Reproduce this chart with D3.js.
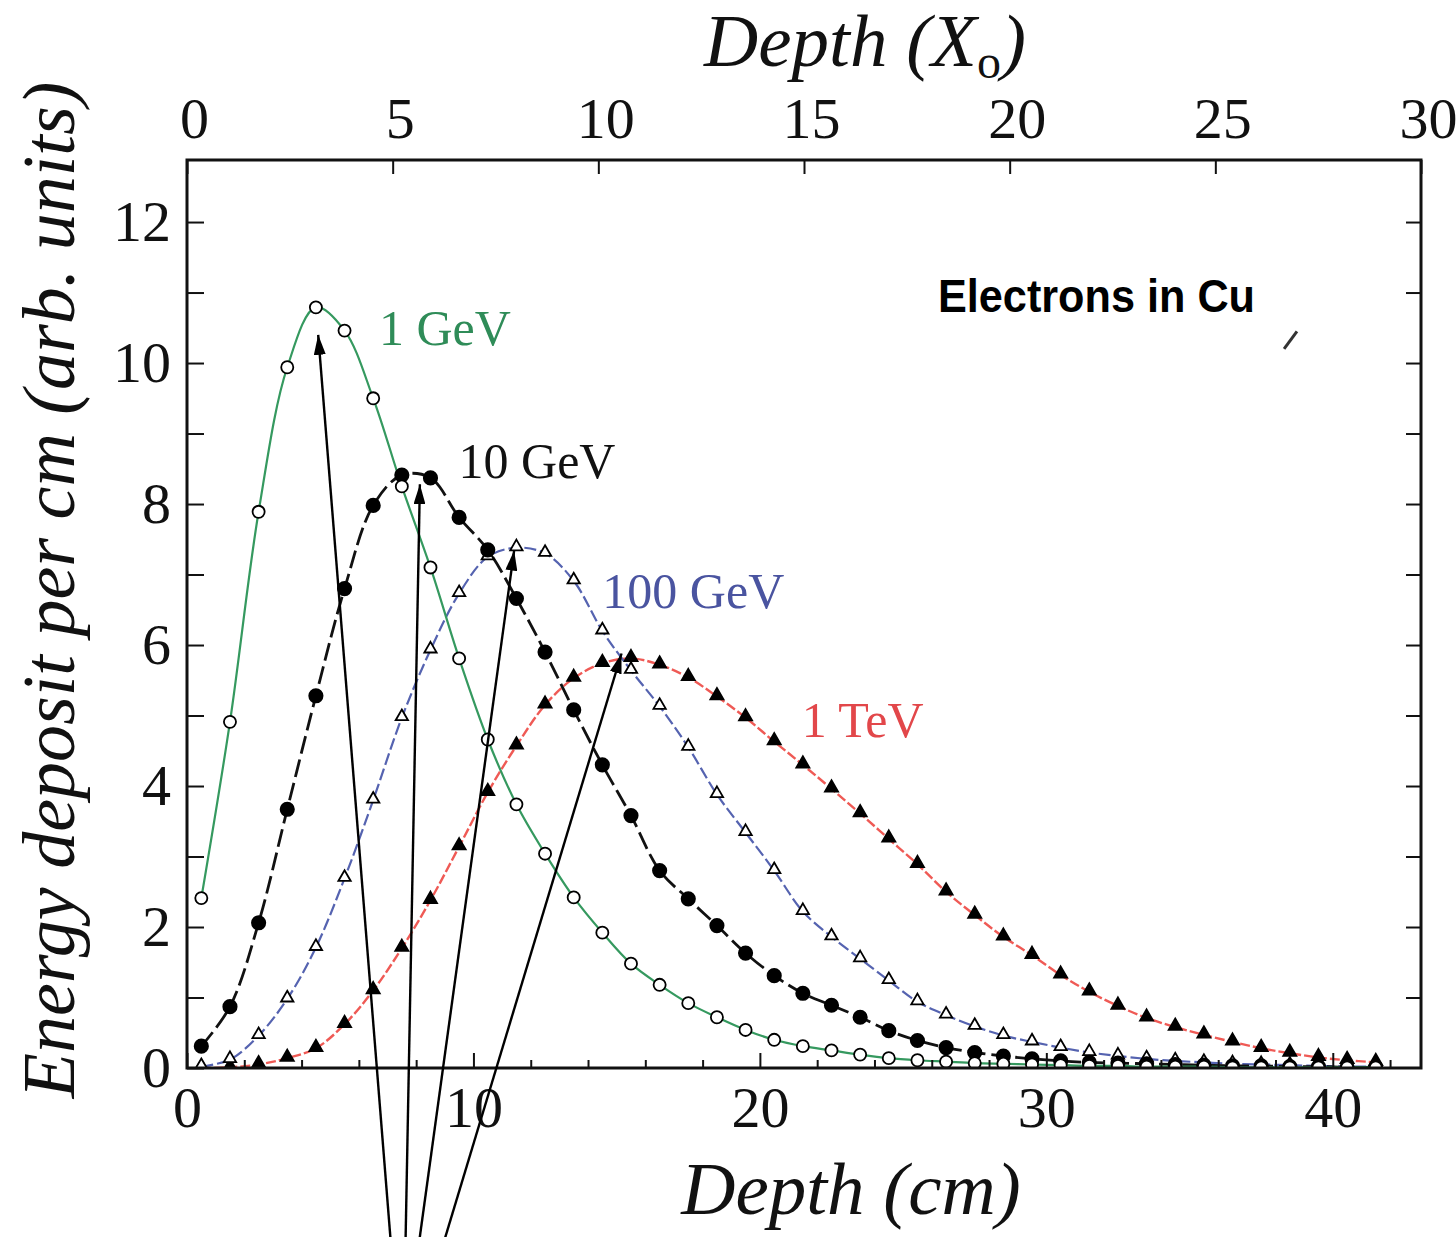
<!DOCTYPE html>
<html>
<head>
<meta charset="utf-8">
<script src="https://cdn.jsdelivr.net/npm/d3@7"></script>
<style>
  html, body { margin: 0; padding: 0; background: #fff; }
  svg { display: block; }
</style>
</head>
<body>
<svg id="chart" width="1456" height="1237"></svg>
<script>
// Longitudinal shower profiles of electrons in copper (dE/dx per cm vs depth)
const X0_CM = 1.436;              // radiation length of copper, cm
const depthRangeX0 = [0, 30];     // top axis extent in radiation lengths
const energyRange = [0, 12.88];

// sampling depths (cm)
const depthCm = [0.5, 1.5, 2.5, 3.5, 4.5, 5.5, 6.5, 7.5, 8.5, 9.5,
  10.5, 11.5, 12.5, 13.5, 14.5, 15.5, 16.5, 17.5, 18.5, 19.5,
  20.5, 21.5, 22.5, 23.5, 24.5, 25.5, 26.5, 27.5, 28.5, 29.5,
  30.5, 31.5, 32.5, 33.5, 34.5, 35.5, 36.5, 37.5, 38.5, 39.5,
  40.5, 41.5];

const seriesNames = ["1 GeV", "10 GeV", "100 GeV", "1 TeV"];

const deposit1GeV = [2.41, 4.91, 7.89, 9.94, 10.79, 10.46, 9.5, 8.25, 7.1, 5.81,
  4.66, 3.74, 3.04, 2.42, 1.92, 1.48, 1.18, 0.92, 0.72, 0.54,
  0.4, 0.31, 0.25, 0.19, 0.14, 0.11, 0.09, 0.07, 0.06, 0.05,
  0.04, 0.03, 0.03, 0.02, 0.02, 0.02, 0.01, 0.01, 0.01, 0.01,
  0.01, 0.01];

const deposit10GeV = [0.31, 0.87, 2.06, 3.67, 5.28, 6.8, 7.98, 8.41, 8.37, 7.81,
  7.35, 6.66, 5.9, 5.08, 4.3, 3.58, 2.8, 2.4, 2.02, 1.63,
  1.31, 1.06, 0.89, 0.72, 0.53, 0.39, 0.29, 0.22, 0.17, 0.13,
  0.1, 0.08, 0.07, 0.06, 0.05, 0.04, 0.03, 0.03, 0.02, 0.02,
  0.01, 0.01];

const deposit100GeV = [0.02, 0.12, 0.46, 0.98, 1.71, 2.69, 3.8, 4.97, 5.93, 6.73,
  7.25, 7.38, 7.3, 6.91, 6.2, 5.64, 5.13, 4.55, 3.88, 3.34,
  2.8, 2.22, 1.86, 1.55, 1.24, 0.94, 0.75, 0.59, 0.46, 0.37,
  0.29, 0.22, 0.17, 0.13, 0.1, 0.08, 0.06, 0.05, 0.04, 0.03,
  0.02, 0.02];

const deposit1TeV = [0.0, 0.01, 0.05, 0.14, 0.28, 0.62, 1.1, 1.7, 2.38, 3.14,
  3.91, 4.57, 5.15, 5.53, 5.74, 5.81, 5.72, 5.54, 5.27, 4.97,
  4.63, 4.3, 3.96, 3.61, 3.25, 2.89, 2.5, 2.17, 1.86, 1.6,
  1.32, 1.08, 0.88, 0.71, 0.58, 0.47, 0.37, 0.28, 0.21, 0.15,
  0.11, 0.08];

// tick values
const bottomMajorTicks = [0, 10, 20, 30, 40];
const bottomMinorTicks = [2, 4, 6, 8, 12, 14, 16, 18, 22, 24, 26, 28, 32, 34, 36, 38, 42];
const topTicks = [0, 5, 10, 15, 20, 25, 30];
const leftMajorTicks = [0, 2, 4, 6, 8, 10, 12];
const leftMinorTicks = [1, 3, 5, 7, 9, 11];
const rightTicks = [1, 2, 3, 4, 5, 6, 7, 8, 9, 10, 11, 12];

// label anchors (depth cm, deposit)
const labelAnchors = [[6.7, 10.26], [9.48, 8.37], [14.5, 6.53], [21.46, 4.7]];
// annotation arrows: [tail depth, tail deposit, tip depth, tip deposit]
const arrowLines = [
  [7.11, -2.45, 4.58, 10.4],
  [7.63, -2.45, 8.13, 8.28],
  [8.11, -2.45, 11.42, 7.34],
  [8.98, -2.45, 15.17, 5.88]
];

const series = [
  { name: seriesNames[0], values: deposit1GeV, line: "#35995f", label: "#2f8c58", dash: null, width: 2.2,
    symbol: d3.symbolCircle, size: 115, fill: "#fff" },
  { name: seriesNames[1], values: deposit10GeV, line: "#111", label: "#111", dash: "18,6", width: 2.8,
    symbol: d3.symbolCircle, size: 140, fill: "#000" },
  { name: seriesNames[2], values: deposit100GeV, line: "#5563b0", label: "#4a54a0", dash: "12,4", width: 2.2,
    symbol: d3.symbolTriangle, size: 66, fill: "#fff" },
  { name: seriesNames[3], values: deposit1TeV, line: "#ef5a55", label: "#e2474a", dash: "10,3", width: 2.4,
    symbol: d3.symbolTriangle, size: 74, fill: "#000" }
];

const svg = d3.select("#chart");
const frame = { left: 187, right: 1421, top: 160, bottom: 1068 };

const x = d3.scaleLinear().domain([0, depthRangeX0[1] * X0_CM]).range([frame.left, frame.right]);
const xTop = d3.scaleLinear().domain(depthRangeX0).range([frame.left, frame.right]);
const y = d3.scaleLinear().domain(energyRange).range([frame.bottom, frame.top]);

const serif = "'Liberation Serif', 'Times New Roman', serif";
const tickFont = 58;

// curves
const lineGen = d3.line()
  .x((d, i) => x(depthCm[i]))
  .y(d => y(d))
  .curve(d3.curveCatmullRom.alpha(0.5));

const plot = svg.append("g");
plot.append("clipPath").attr("id", "plotclip")
  .append("rect").attr("x", frame.left).attr("y", frame.top)
  .attr("width", frame.right - frame.left).attr("height", frame.bottom - frame.top);

const curves = plot.append("g").attr("clip-path", "url(#plotclip)");
series.slice().reverse().forEach(s => {
  curves.append("path")
    .datum(s.values)
    .attr("d", lineGen)
    .attr("fill", "none")
    .attr("stroke", s.line)
    .attr("stroke-width", s.width)
    .attr("stroke-dasharray", s.dash);
});
series.slice().reverse().forEach(s => {
  curves.append("g").selectAll("path")
    .data(s.values)
    .join("path")
    .attr("transform", (d, i) => `translate(${x(depthCm[i])},${y(d) - (s.symbol === d3.symbolTriangle ? 1 : 0)})`)
    .attr("d", d3.symbol().type(s.symbol).size(s.size))
    .attr("fill", s.fill)
    .attr("stroke", "#000")
    .attr("stroke-width", 1.8);
});

// series labels
series.forEach((s, i) => {
  svg.append("text")
    .attr("x", x(labelAnchors[i][0]))
    .attr("y", y(labelAnchors[i][1]))
    .attr("font-family", serif)
    .attr("font-size", 50)
    .attr("fill", s.label)
    .text(s.name);
});

// axes
const axisStyle = g => {
  g.select(".domain").remove();
  g.selectAll(".tick line").attr("stroke", "#111").attr("stroke-width", 2);
  g.selectAll(".tick text").attr("font-family", serif).attr("font-size", tickFont).attr("fill", "#111");
};

svg.append("g")
  .attr("transform", `translate(0,${frame.bottom})`)
  .call(d3.axisBottom(x).tickValues(bottomMajorTicks).tickSize(-15).tickPadding(14).tickFormat(d3.format("d")))
  .call(axisStyle)
  .call(g => g.selectAll(".tick text").attr("dy", "0.78em"));

svg.append("g")
  .attr("transform", `translate(0,${frame.bottom})`)
  .call(d3.axisBottom(x).tickValues(bottomMinorTicks).tickSize(-8).tickFormat(""))
  .call(axisStyle);

svg.append("g")
  .attr("transform", `translate(0,${frame.top})`)
  .call(d3.axisTop(xTop).tickValues(topTicks).tickSize(-14).tickPadding(22).tickFormat(d3.format("d")))
  .call(axisStyle)
  .call(g => g.selectAll(".tick text").attr("dx", "0.12em"));

svg.append("g")
  .attr("transform", `translate(${frame.left},0)`)
  .call(d3.axisLeft(y).tickValues(leftMajorTicks).tickSize(-17).tickPadding(16).tickFormat(d3.format("d")))
  .call(axisStyle);

svg.append("g")
  .attr("transform", `translate(${frame.left},0)`)
  .call(d3.axisLeft(y).tickValues(leftMinorTicks).tickSize(-17).tickFormat(""))
  .call(axisStyle);

svg.append("g")
  .attr("transform", `translate(${frame.right},0)`)
  .call(d3.axisRight(y).tickValues(rightTicks).tickSize(-15).tickFormat(""))
  .call(axisStyle);

// plot frame
svg.append("rect")
  .attr("x", frame.left).attr("y", frame.top)
  .attr("width", frame.right - frame.left).attr("height", frame.bottom - frame.top)
  .attr("fill", "none").attr("stroke", "#111").attr("stroke-width", 3);

// axis titles
svg.append("text")
  .attr("x", 851)
  .attr("y", 1214)
  .attr("text-anchor", "middle")
  .attr("font-family", serif).attr("font-style", "italic").attr("font-size", 75)
  .attr("fill", "#111")
  .text("Depth (cm)");

const topTitle = svg.append("text")
  .attr("x", 865)
  .attr("y", 66)
  .attr("text-anchor", "middle")
  .attr("font-family", serif).attr("font-style", "italic").attr("font-size", 75)
  .attr("fill", "#111");
topTitle.append("tspan").text("Depth (X");
topTitle.append("tspan").attr("font-style", "normal").attr("font-size", 48).attr("dy", 12).text("o");
topTitle.append("tspan").attr("dy", -12).text(")");

svg.append("text")
  .attr("transform", `translate(74,590) rotate(-90)`)
  .attr("text-anchor", "middle")
  .attr("font-family", serif).attr("font-style", "italic").attr("font-size", 74)
  .attr("fill", "#111")
  .text("Energy deposit per cm (arb. units)");

// material note
svg.append("text")
  .attr("x", 938).attr("y", 312)
  .attr("font-family", "'Liberation Sans', Arial, sans-serif")
  .attr("font-weight", "bold").attr("font-size", 47)
  .attr("textLength", 317).attr("lengthAdjust", "spacingAndGlyphs")
  .attr("fill", "#000")
  .text("Electrons in Cu");

svg.append("line")
  .attr("x1", x(38.3)).attr("y1", y(10.2))
  .attr("x2", x(38.75)).attr("y2", y(10.45))
  .attr("stroke", "#333").attr("stroke-width", 3);

// arrows pointing to the shower maxima
const defs = svg.append("defs");
defs.append("marker")
  .attr("id", "arrowhead")
  .attr("viewBox", "0 0 20 12")
  .attr("refX", 20).attr("refY", 6)
  .attr("markerWidth", 20).attr("markerHeight", 12)
  .attr("markerUnits", "userSpaceOnUse")
  .attr("orient", "auto")
  .append("path").attr("d", "M0,0 L20,6 L0,12 Z").attr("fill", "#000");

svg.append("g").selectAll("line")
  .data(arrowLines)
  .join("line")
  .attr("x1", d => x(d[0])).attr("y1", d => y(d[1]))
  .attr("x2", d => x(d[2])).attr("y2", d => y(d[3]))
  .attr("stroke", "#000").attr("stroke-width", 2.4)
  .attr("marker-end", "url(#arrowhead)");
</script>
</body>
</html>
